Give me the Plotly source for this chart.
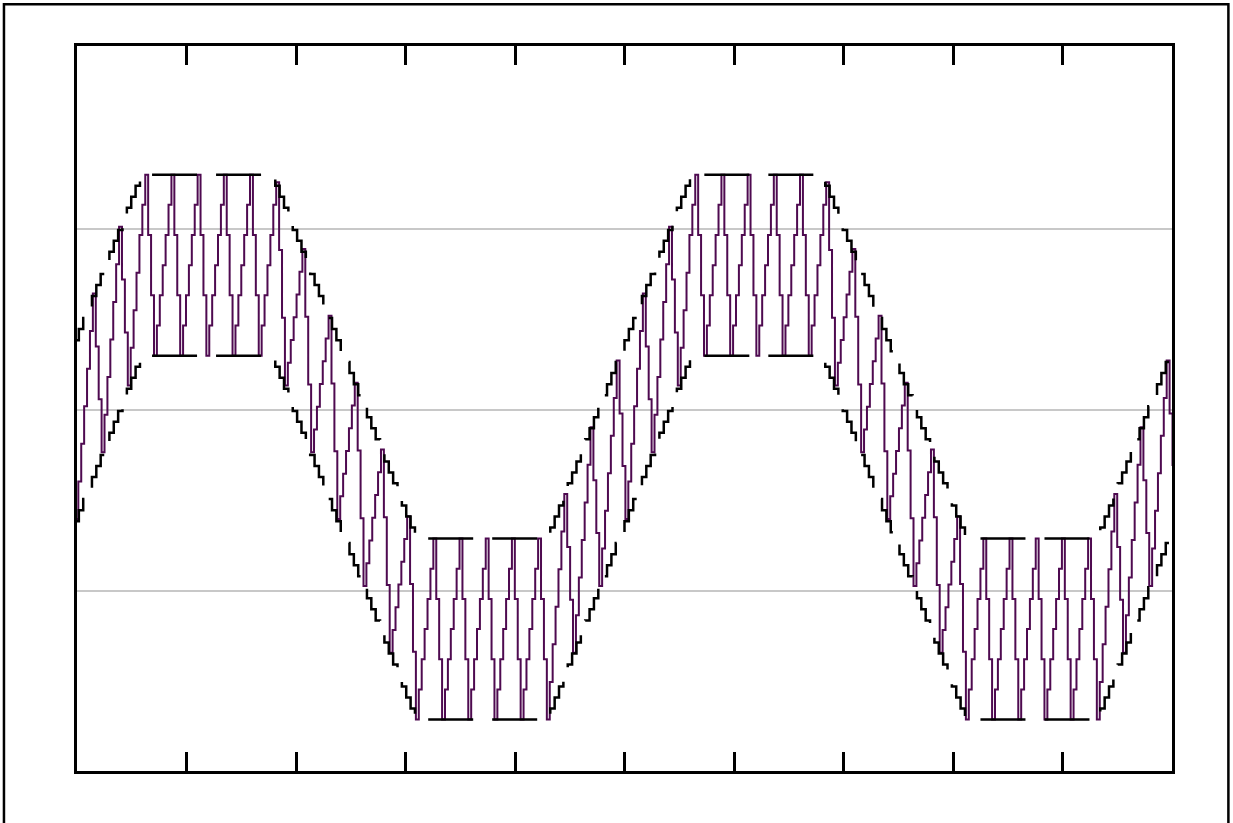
import plotly.graph_objects as go

# ---------------- data ----------------
RIPPLE_PERIOD = 0.239183          # x-units between neighbouring teeth of the purple signal
HALF_BAND = 0.5                   # half distance between the two dashed envelopes
HIGH_LEVEL = 0.80                 # centre of the band on the upper plateaus
LOW_LEVEL = -1.21                 # centre of the band on the lower plateaus

# staircase levels of the band centre on a rising ramp, envelope sampling (6 steps per tooth)
ENV_RAMP_UP = [-1.149, -1.088, -1.027, -0.966, -0.905, -0.845, -0.784, -0.723,
               -0.662, -0.601, -0.540, -0.479, -0.418, -0.357, -0.296, -0.235,
               -0.175, -0.114, -0.053, 0.008, 0.069, 0.130, 0.191, 0.252,
               0.313, 0.374, 0.435, 0.495, 0.556, 0.617, 0.678, 0.739]
# staircase levels of the band centre on a rising ramp, signal sampling (9 steps per tooth)
SIG_RAMP_UP = [-1.169, -1.128, -1.087, -1.046, -1.005, -0.964, -0.923, -0.882,
               -0.841, -0.800, -0.759, -0.718, -0.677, -0.636, -0.595, -0.554,
               -0.513, -0.472, -0.431, -0.390, -0.349, -0.308, -0.267, -0.226,
               -0.185, -0.143, -0.102, -0.061, -0.020, 0.021, 0.062, 0.103,
               0.144, 0.185, 0.226, 0.267, 0.308, 0.349, 0.390, 0.431,
               0.472, 0.513, 0.554, 0.595, 0.636, 0.677, 0.718, 0.759]
# one tooth of the purple ripple (fraction of the half band), 9 samples
RIPPLE = [-1.0, -0.667, -0.333, 0.0, 0.333, 0.667, 1.0, 0.333, -0.333]

X_TICKS = [1, 2, 3, 4, 5, 6, 7, 8, 9]
Y_GRID = [-1, 0, 1]

# ---------------- assemble the sampled series ----------------
ENV_RAMP_DOWN = ENV_RAMP_UP[::-1]
SIG_RAMP_DOWN = SIG_RAMP_UP[::-1]

env_centre = (ENV_RAMP_UP[17:] + [HIGH_LEVEL] * 31 + ENV_RAMP_DOWN + [LOW_LEVEL] * 31 +
              ENV_RAMP_UP + [HIGH_LEVEL] * 31 + ENV_RAMP_DOWN + [LOW_LEVEL] * 31 +
              ENV_RAMP_UP[:18])
env_dx = RIPPLE_PERIOD / 6
env_x = [0.0169 + (i - 1) * env_dx for i in range(len(env_centre))]
# lead-in outside the axis range (sets the dash phase)
env_x = [env_x[0] - 0.703] + env_x
env_centre = [env_centre[0]] + env_centre
upper = [c + HALF_BAND for c in env_centre]
lower = [c - HALF_BAND for c in env_centre]

sig_centre = (SIG_RAMP_UP[26:] + [HIGH_LEVEL] * 47 + SIG_RAMP_DOWN + [LOW_LEVEL] * 46 +
              SIG_RAMP_UP + [HIGH_LEVEL] * 47 + SIG_RAMP_DOWN + [LOW_LEVEL] * 46 +
              SIG_RAMP_UP[:26])
sig_dx = RIPPLE_PERIOD / 9
sig_x = [-0.01453 + i * sig_dx for i in range(len(sig_centre))]
sig_y = [c + HALF_BAND * RIPPLE[i % 9] for i, c in enumerate(sig_centre)]

# ---------------- figure ----------------
fig = go.Figure()
fig.add_trace(go.Scatter(x=sig_x, y=sig_y, mode="lines",
                         line=dict(color="#4e0a50", width=2, shape="hv"), showlegend=False))
fig.add_trace(go.Scatter(x=env_x, y=upper, mode="lines",
                         line=dict(color="black", width=2.5, dash="45px,19px", shape="hv"), showlegend=False))
fig.add_trace(go.Scatter(x=env_x, y=lower, mode="lines",
                         line=dict(color="black", width=2.5, dash="45px,19px", shape="hv"), showlegend=False))

fig.update_layout(
    width=1233, height=823,
    margin=dict(l=77, r=61, t=46, b=52),
    paper_bgcolor="white", plot_bgcolor="white",
    shapes=[dict(type="rect", xref="paper", yref="paper", x0=-0.0667, x1=1.0515, y0=-0.2, y1=1.0575,
                 line=dict(color="black", width=2.5), layer="below")],
)
fig.update_xaxes(range=[0, 10], showline=True, linecolor="black", linewidth=2.5, mirror="ticks",
                 ticks="inside", ticklen=19, tickwidth=2.5, tickcolor="black",
                 tickvals=X_TICKS, showticklabels=False, showgrid=False, zeroline=False)
fig.update_yaxes(range=[-1.994, 2.011], showline=True, linecolor="black", linewidth=2.5, mirror=True,
                 ticks="", tickvals=Y_GRID, showticklabels=False, showgrid=True,
                 gridcolor="#c8c8c8", gridwidth=2, zeroline=False)
fig.write_html("out.html")
